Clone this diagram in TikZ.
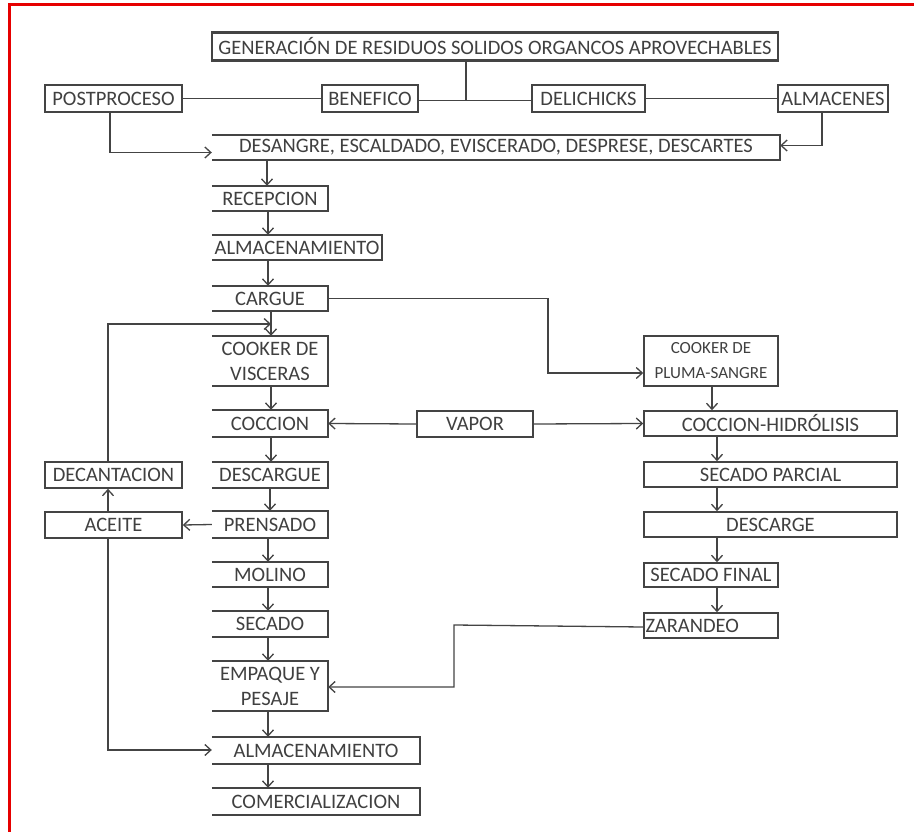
\documentclass[tikz,border=0pt]{standalone}
\usepackage{fontspec}
\setmainfont{Carlito}
\usetikzlibrary{arrows.meta,calc}
\definecolor{ln}{HTML}{444444}
\definecolor{tx}{HTML}{404040}
\definecolor{frame}{HTML}{E60000}
\newcommand\mkbox[7]{\node[#1, minimum width={(#5-#3)*1pt}, minimum height={(#6-#4)*1pt}] (#2) at ({(#3+#5)/2},{(#4+#6)/2}) {#7};}
\newcommand\openleft[1]{\draw[bline] (#1.north west) -- (#1.north east) -- (#1.south east) -- (#1.south west);}
\begin{document}
\begin{tikzpicture}[x=1pt,y=-1pt,
  txt/.style={inner sep=0pt, text=tx, font=\fontsize{20.5}{25}\selectfont, align=center},
  fbox/.style={txt, draw=ln, line width=1.6pt},
  obox/.style={txt},
  bline/.style={draw=ln, line width=1.6pt},
  conn/.style={draw=ln, line width=1.3pt},
  arr/.style={conn, -{Straight Barb[length=6pt,width=11pt,line width=1.3pt]}}]
\useasboundingbox (0,0) rectangle (914,832);
\fill[white] (0,0) rectangle (914,832);
\draw[frame, line width=3pt] (9.5,832) -- (9.5,5) -- (914,5);

% top row
\mkbox{fbox}{gen}{212}{33}{778}{60}{GENERACIÓN DE RESIDUOS SOLIDOS ORGANCOS APROVECHABLES}
\draw[ln, line width=3pt] (gen.north west) -- (gen.north east);
\draw[ln, line width=3pt] (gen.south west) -- (gen.south east);
\mkbox{fbox}{post}{45}{85}{182}{112}{POSTPROCESO}
\mkbox{fbox}{benef}{322}{85}{418}{112}{BENEFICO}
\mkbox{fbox}{deli}{532}{85}{645}{112}{DELICHICKS}
\mkbox{fbox}{almc}{778}{85}{888}{112}{ALMACENES}
\coordinate (j) at (466,100);

\mkbox{obox}{desa}{212}{135}{780}{160}{DESANGRE, ESCALDADO, EVISCERADO, DESPRESE, DESCARTES}
\openleft{desa}

% central column
\mkbox{obox}{rec}{212}{186}{328}{211}{RECEPCION}\openleft{rec}
\mkbox{obox}{alma}{212}{235}{382}{260}{ALMACENAMIENTO}\openleft{alma}
\mkbox{obox}{car}{212}{286}{328}{311}{CARGUE}\openleft{car}
\mkbox{obox}{coov}{212}{336}{328}{386}{COOKER DE\\VISCERAS}\openleft{coov}
\mkbox{obox}{coc}{212}{410}{328}{437}{COCCION}\openleft{coc}
\mkbox{obox}{desc}{212}{462}{328}{488}{DESCARGUE}\openleft{desc}
\mkbox{obox}{pren}{212}{511}{328}{538}{PRENSADO}\openleft{pren}
\mkbox{obox}{mol}{212}{562}{328}{587}{MOLINO}\openleft{mol}
\mkbox{obox}{sec}{212}{611}{328}{637}{SECADO}\openleft{sec}
\mkbox{obox}{emp}{212}{661}{328}{711}{EMPAQUE Y\\PESAJE}\openleft{emp}
\mkbox{obox}{almb}{212}{737}{420}{764}{ALMACENAMIENTO}\openleft{almb}
\mkbox{obox}{com}{212}{788}{420}{815}{COMERCIALIZACION}\openleft{com}

% left column
\mkbox{fbox}{dec}{45}{462}{182}{488}{DECANTACION}
\mkbox{fbox}{ace}{45}{512}{182}{538}{ACEITE}

% right column
\mkbox{fbox}{vap}{417}{411}{533}{437}{VAPOR}
\mkbox{fbox, font=\fontsize{17}{25}\selectfont}{coop}{644}{336}{778}{386}{COOKER DE\\PLUMA-SANGRE}
\mkbox{fbox}{coch}{644}{411}{897}{436}{COCCION-HIDRÓLISIS}
\mkbox{fbox}{secp}{644}{462}{897}{487}{SECADO PARCIAL}
\mkbox{fbox}{descg}{644}{512}{897}{537}{DESCARGE}
\mkbox{fbox}{secf}{644}{563}{778}{587}{SECADO FINAL}
\mkbox{fbox, text width=131pt, align=left}{zar}{644}{613}{778}{638}{ZARANDEO}

% connectors top
\draw[conn] (gen.south -| j) -- (j);
\draw[conn] (post.east) -- (benef.west);
\draw[conn] ($(benef.east)+(0,2)$) -- ($(deli.west)+(0,2)$);
\draw[conn] (deli.east) -- (almc.east -| almc.west);
\draw[arr] (post.south -| 110,0) |- ($(desa.west)+(0,5)$);
\draw[arr] (almc.south -| 822,0) |- ($(desa.east)+(0,-2)$);

% central chain
\draw[arr] (desa.south -| 267,0) -- (rec.north -| 267,0);
\draw[arr] (rec.south -| 268,0) -- (alma.north -| 268,0);
\draw[arr] (alma.south -| 268,0) -- (car.north -| 268,0);
\draw[arr] (car.south -| 271,0) -- (coov.north -| 271,0);
\draw[arr] (coov.south -| 271,0) -- (coc.north -| 271,0);
\draw[arr] (coc.south -| 271,0) -- (desc.north -| 271,0);
\draw[arr] (desc.south -| 270,0) -- (pren.north -| 270,0);
\draw[arr] (pren.south -| 268,0) -- (mol.north -| 268,0);
\draw[arr] (mol.south -| 268,0) -- (sec.north -| 268,0);
\draw[arr] (sec.south -| 268,0) -- (emp.north -| 268,0);
\draw[arr] (emp.south -| 268,0) -- (almb.north -| 268,0);
\draw[arr] (almb.south -| 268,0) -- (com.north -| 268,0);

% oil loop
\draw[arr] (pren.west) -- (ace.east);
\draw[arr] (ace.north -| 108,0) -- (dec.south -| 108,0);
\draw[arr] (dec.north -| 108,0) |- (271,324);
\draw[arr] (ace.south -| 108,0) |- ($(almb.west)+(0,-0.5)$);

% cargue to pluma
\draw[arr] (car.east) -| (548,373) -- (coop.west |- 0,373);

% vapor
\draw[arr] (vap.west) -- (coc.east);
\draw[arr] (vap.east) -- (coch.west);

% right chain
\draw[arr] (coop.south -| 712,0) -- (coch.north -| 712,0);
\draw[arr] (coch.south -| 717,0) -- (secp.north -| 717,0);
\draw[arr] (secp.south -| 717,0) -- (descg.north -| 717,0);
\draw[arr] (descg.south -| 717,0) -- (secf.north -| 717,0);
\draw[arr] (secf.south -| 717,0) -- (zar.north -| 717,0);

% zarandeo to empaque
\draw[arr] (zar.west |- 0,627) -- (454,625) -- (454,687) -- (emp.east |- 0,687);
\end{tikzpicture}
\end{document}
